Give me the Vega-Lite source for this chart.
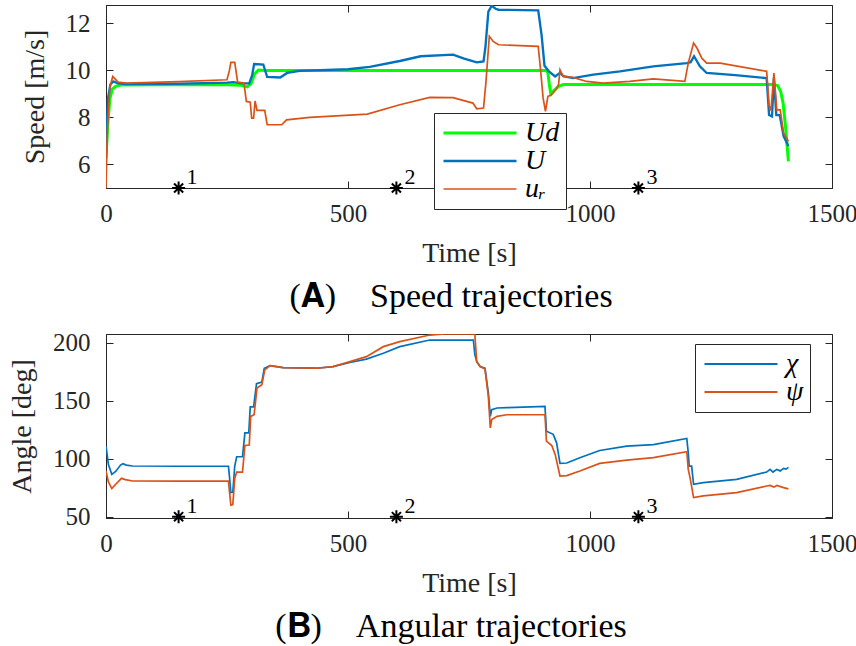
{
  "$schema": "https://vega.github.io/schema/vega-lite/v6.json",
  "padding": {"left": 8, "top": 4, "right": 0, "bottom": 0},
  "background": "white",
  "spacing": 15,
  "resolve": {"scale": {"color": "independent", "strokeWidth": "independent"}, "legend": {"color": "independent"}},
  "config": {
    "font": "Liberation Serif",
    "view": {"stroke": "#262626", "strokeWidth": 1},
    "axis": {"grid": false, "domainColor": "#262626", "tickColor": "#262626", "labelColor": "#262626", "titleColor": "#262626", "labelFont": "Liberation Serif", "titleFont": "Liberation Serif", "labelFontSize": 25, "titleFontSize": 28, "titleFontWeight": "normal", "tickSize": -7, "labelFlush": false, "labelOverlap": false},
    "title": {"font": "Liberation Serif, DejaVu Serif", "fontSize": 34, "fontWeight": "normal", "color": "#000000", "orient": "bottom", "anchor": "middle", "dx": -18},
    "legend": {"labelFont": "Liberation Serif", "labelFontStyle": "italic", "labelFontSize": 28, "labelColor": "#000000", "fillColor": "white", "strokeColor": "#262626", "padding": 6, "rowPadding": 0, "symbolStrokeWidth": 2, "symbolType": "M-4,0L4,0", "symbolSize": 333, "symbolOffset": 26, "labelOffset": 31}
  },
  "datasets": {
    "speed": [
      {"t":0,"v":6.3,"s":"Ud"},{"t":4,"v":7.8,"s":"Ud"},{"t":8,"v":8.8,"s":"Ud"},{"t":13,"v":9.2,"s":"Ud"},{"t":20,"v":9.32,"s":"Ud"},{"t":30,"v":9.38,"s":"Ud"},{"t":100,"v":9.39,"s":"Ud"},{"t":250,"v":9.39,"s":"Ud"},{"t":280,"v":9.37,"s":"Ud"},{"t":292,"v":9.3,"s":"Ud"},{"t":300,"v":9.45,"s":"Ud"},{"t":307,"v":9.85,"s":"Ud"},{"t":315,"v":10.02,"s":"Ud"},{"t":330,"v":10.0,"s":"Ud"},{"t":910,"v":10.0,"s":"Ud"},{"t":913,"v":9.9,"s":"Ud"},{"t":916,"v":9.4,"s":"Ud"},{"t":919,"v":9.0,"s":"Ud"},{"t":926,"v":9.15,"s":"Ud"},{"t":935,"v":9.32,"s":"Ud"},{"t":945,"v":9.4,"s":"Ud"},{"t":1380,"v":9.4,"s":"Ud"},{"t":1388,"v":9.35,"s":"Ud"},{"t":1394,"v":9.1,"s":"Ud"},{"t":1399,"v":8.6,"s":"Ud"},{"t":1404,"v":7.6,"s":"Ud"},{"t":1410,"v":6.13,"s":"Ud"},
      {"t":0,"v":6.5,"s":"U"},{"t":4,"v":8.8,"s":"U"},{"t":9,"v":9.4,"s":"U"},{"t":15,"v":9.53,"s":"U"},{"t":25,"v":9.45,"s":"U"},{"t":40,"v":9.42,"s":"U"},{"t":150,"v":9.43,"s":"U"},{"t":250,"v":9.48,"s":"U"},{"t":263,"v":9.5,"s":"U"},{"t":280,"v":9.45,"s":"U"},{"t":296,"v":9.45,"s":"U"},{"t":302,"v":9.8,"s":"U"},{"t":306,"v":10.27,"s":"U"},{"t":325,"v":10.25,"s":"U"},{"t":333,"v":9.72,"s":"U"},{"t":360,"v":9.7,"s":"U"},{"t":375,"v":9.9,"s":"U"},{"t":400,"v":9.98,"s":"U"},{"t":500,"v":10.05,"s":"U"},{"t":545,"v":10.15,"s":"U"},{"t":607,"v":10.4,"s":"U"},{"t":650,"v":10.6,"s":"U"},{"t":717,"v":10.67,"s":"U"},{"t":740,"v":10.5,"s":"U"},{"t":766,"v":10.34,"s":"U"},{"t":780,"v":10.38,"s":"U"},{"t":784,"v":11.0,"s":"U"},{"t":790,"v":12.5,"s":"U"},{"t":797,"v":12.75,"s":"U"},{"t":805,"v":12.62,"s":"U"},{"t":811,"v":12.58,"s":"U"},{"t":893,"v":12.55,"s":"U"},{"t":900,"v":11.5,"s":"U"},{"t":906,"v":10.2,"s":"U"},{"t":915,"v":9.96,"s":"U"},{"t":928,"v":9.74,"s":"U"},{"t":938,"v":9.9,"s":"U"},{"t":945,"v":9.75,"s":"U"},{"t":965,"v":9.67,"s":"U"},{"t":1007,"v":9.82,"s":"U"},{"t":1062,"v":9.96,"s":"U"},{"t":1131,"v":10.17,"s":"U"},{"t":1200,"v":10.31,"s":"U"},{"t":1208,"v":10.35,"s":"U"},{"t":1215,"v":10.6,"s":"U"},{"t":1227,"v":10.17,"s":"U"},{"t":1241,"v":9.89,"s":"U"},{"t":1300,"v":9.8,"s":"U"},{"t":1365,"v":9.67,"s":"U"},{"t":1370,"v":8.1,"s":"U"},{"t":1376,"v":8.04,"s":"U"},{"t":1380,"v":9.67,"s":"U"},{"t":1385,"v":8.1,"s":"U"},{"t":1392,"v":8.1,"s":"U"},{"t":1400,"v":7.2,"s":"U"},{"t":1410,"v":6.77,"s":"U"},
      {"t":0,"v":5.0,"s":"uᵣ"},{"t":3,"v":7.5,"s":"uᵣ"},{"t":8,"v":9.3,"s":"uᵣ"},{"t":14,"v":9.74,"s":"uᵣ"},{"t":25,"v":9.5,"s":"uᵣ"},{"t":42,"v":9.46,"s":"uᵣ"},{"t":150,"v":9.52,"s":"uᵣ"},{"t":250,"v":9.6,"s":"uᵣ"},{"t":255,"v":10.0,"s":"uᵣ"},{"t":258,"v":10.34,"s":"uᵣ"},{"t":266,"v":10.34,"s":"uᵣ"},{"t":272,"v":9.5,"s":"uᵣ"},{"t":285,"v":9.46,"s":"uᵣ"},{"t":290,"v":8.68,"s":"uᵣ"},{"t":298,"v":8.65,"s":"uᵣ"},{"t":301,"v":7.97,"s":"uᵣ"},{"t":305,"v":7.97,"s":"uᵣ"},{"t":308,"v":8.7,"s":"uᵣ"},{"t":312,"v":8.3,"s":"uᵣ"},{"t":328,"v":8.3,"s":"uᵣ"},{"t":333,"v":7.69,"s":"uᵣ"},{"t":363,"v":7.69,"s":"uᵣ"},{"t":373,"v":7.9,"s":"uᵣ"},{"t":421,"v":8.0,"s":"uᵣ"},{"t":540,"v":8.14,"s":"uᵣ"},{"t":607,"v":8.54,"s":"uᵣ"},{"t":669,"v":8.85,"s":"uᵣ"},{"t":717,"v":8.84,"s":"uᵣ"},{"t":758,"v":8.61,"s":"uᵣ"},{"t":766,"v":8.37,"s":"uᵣ"},{"t":780,"v":8.4,"s":"uᵣ"},{"t":785,"v":9.5,"s":"uᵣ"},{"t":792,"v":11.45,"s":"uᵣ"},{"t":800,"v":11.23,"s":"uᵣ"},{"t":811,"v":11.09,"s":"uᵣ"},{"t":893,"v":11.02,"s":"uᵣ"},{"t":898,"v":10.0,"s":"uᵣ"},{"t":903,"v":8.84,"s":"uᵣ"},{"t":908,"v":8.26,"s":"uᵣ"},{"t":913,"v":8.9,"s":"uᵣ"},{"t":920,"v":8.95,"s":"uᵣ"},{"t":930,"v":9.2,"s":"uᵣ"},{"t":935,"v":9.39,"s":"uᵣ"},{"t":938,"v":10.03,"s":"uᵣ"},{"t":945,"v":9.74,"s":"uᵣ"},{"t":965,"v":9.7,"s":"uᵣ"},{"t":993,"v":9.53,"s":"uᵣ"},{"t":1027,"v":9.46,"s":"uᵣ"},{"t":1082,"v":9.53,"s":"uᵣ"},{"t":1131,"v":9.64,"s":"uᵣ"},{"t":1196,"v":9.53,"s":"uᵣ"},{"t":1203,"v":10.31,"s":"uᵣ"},{"t":1214,"v":11.16,"s":"uᵣ"},{"t":1221,"v":10.95,"s":"uᵣ"},{"t":1231,"v":10.52,"s":"uᵣ"},{"t":1241,"v":10.31,"s":"uᵣ"},{"t":1269,"v":10.31,"s":"uᵣ"},{"t":1365,"v":9.96,"s":"uᵣ"},{"t":1370,"v":8.5,"s":"uᵣ"},{"t":1374,"v":8.32,"s":"uᵣ"},{"t":1380,"v":9.89,"s":"uᵣ"},{"t":1386,"v":8.32,"s":"uᵣ"},{"t":1393,"v":8.32,"s":"uᵣ"},{"t":1400,"v":7.33,"s":"uᵣ"},{"t":1410,"v":6.98,"s":"uᵣ"}
    ],
    "angle": [
      {"t":0,"v":111,"s":"χ"},{"t":5,"v":95,"s":"χ"},{"t":12,"v":86.5,"s":"χ"},{"t":20,"v":89,"s":"χ"},{"t":30,"v":94.5,"s":"χ"},{"t":35,"v":95.7,"s":"χ"},{"t":42,"v":94.5,"s":"χ"},{"t":55,"v":93.7,"s":"χ"},{"t":150,"v":93.5,"s":"χ"},{"t":253,"v":93.5,"s":"χ"},{"t":255,"v":85,"s":"χ"},{"t":258,"v":70.8,"s":"χ"},{"t":262,"v":71,"s":"χ"},{"t":266,"v":93.7,"s":"χ"},{"t":270,"v":101.7,"s":"χ"},{"t":282,"v":101.7,"s":"χ"},{"t":287,"v":122.3,"s":"χ"},{"t":295,"v":122.3,"s":"χ"},{"t":298,"v":144.6,"s":"χ"},{"t":305,"v":144.6,"s":"χ"},{"t":311,"v":164.6,"s":"χ"},{"t":322,"v":166,"s":"χ"},{"t":327,"v":178,"s":"χ"},{"t":339,"v":180.3,"s":"χ"},{"t":366,"v":178.5,"s":"χ"},{"t":435,"v":178,"s":"χ"},{"t":469,"v":179.4,"s":"χ"},{"t":504,"v":182.9,"s":"χ"},{"t":538,"v":185.8,"s":"χ"},{"t":573,"v":190.9,"s":"χ"},{"t":607,"v":196.6,"s":"χ"},{"t":669,"v":202.3,"s":"χ"},{"t":759,"v":202.3,"s":"χ"},{"t":762,"v":190,"s":"χ"},{"t":766,"v":183.7,"s":"χ"},{"t":773,"v":179.4,"s":"χ"},{"t":783,"v":178,"s":"χ"},{"t":790,"v":156.6,"s":"χ"},{"t":794,"v":136.5,"s":"χ"},{"t":797,"v":142.3,"s":"χ"},{"t":808,"v":143.7,"s":"χ"},{"t":828,"v":144,"s":"χ"},{"t":907,"v":145.1,"s":"χ"},{"t":910,"v":123.7,"s":"χ"},{"t":924,"v":121,"s":"χ"},{"t":931,"v":113.7,"s":"χ"},{"t":938,"v":96,"s":"χ"},{"t":952,"v":96.3,"s":"χ"},{"t":979,"v":100.9,"s":"χ"},{"t":1020,"v":107.1,"s":"χ"},{"t":1076,"v":110.8,"s":"χ"},{"t":1131,"v":112.2,"s":"χ"},{"t":1200,"v":117.4,"s":"χ"},{"t":1203,"v":105,"s":"χ"},{"t":1205,"v":93.7,"s":"χ"},{"t":1210,"v":93.7,"s":"χ"},{"t":1214,"v":78,"s":"χ"},{"t":1234,"v":79.4,"s":"χ"},{"t":1303,"v":82.2,"s":"χ"},{"t":1365,"v":88.5,"s":"χ"},{"t":1372,"v":90.8,"s":"χ"},{"t":1378,"v":88.5,"s":"χ"},{"t":1386,"v":90.8,"s":"χ"},{"t":1393,"v":89.5,"s":"χ"},{"t":1400,"v":91.7,"s":"χ"},{"t":1405,"v":91,"s":"χ"},{"t":1410,"v":92.5,"s":"χ"},
      {"t":0,"v":89.4,"s":"ψ"},{"t":5,"v":80,"s":"ψ"},{"t":12,"v":74.3,"s":"ψ"},{"t":20,"v":78,"s":"ψ"},{"t":32,"v":83.1,"s":"ψ"},{"t":40,"v":82,"s":"ψ"},{"t":55,"v":80.8,"s":"ψ"},{"t":150,"v":80.7,"s":"ψ"},{"t":253,"v":80.7,"s":"ψ"},{"t":255,"v":72,"s":"ψ"},{"t":258,"v":60,"s":"ψ"},{"t":262,"v":60.5,"s":"ψ"},{"t":266,"v":83,"s":"ψ"},{"t":270,"v":88.5,"s":"ψ"},{"t":282,"v":88.5,"s":"ψ"},{"t":287,"v":111.4,"s":"ψ"},{"t":296,"v":111.8,"s":"ψ"},{"t":299,"v":136.5,"s":"ψ"},{"t":306,"v":137.9,"s":"ψ"},{"t":312,"v":160.9,"s":"ψ"},{"t":322,"v":163.7,"s":"ψ"},{"t":328,"v":176.6,"s":"ψ"},{"t":339,"v":180.3,"s":"ψ"},{"t":366,"v":178.5,"s":"ψ"},{"t":435,"v":178,"s":"ψ"},{"t":469,"v":179.4,"s":"ψ"},{"t":504,"v":183.7,"s":"ψ"},{"t":538,"v":188,"s":"ψ"},{"t":573,"v":196.6,"s":"ψ"},{"t":607,"v":200.9,"s":"ψ"},{"t":669,"v":206.6,"s":"ψ"},{"t":700,"v":207.5,"s":"ψ"},{"t":762,"v":207.5,"s":"ψ"},{"t":766,"v":183.7,"s":"ψ"},{"t":773,"v":179.4,"s":"ψ"},{"t":783,"v":177.4,"s":"ψ"},{"t":790,"v":153.7,"s":"ψ"},{"t":794,"v":126.6,"s":"ψ"},{"t":797,"v":133.7,"s":"ψ"},{"t":808,"v":136.5,"s":"ψ"},{"t":828,"v":137.9,"s":"ψ"},{"t":907,"v":137.9,"s":"ψ"},{"t":910,"v":115.1,"s":"ψ"},{"t":921,"v":111.4,"s":"ψ"},{"t":928,"v":103.7,"s":"ψ"},{"t":938,"v":85.1,"s":"ψ"},{"t":952,"v":85.5,"s":"ψ"},{"t":979,"v":89.4,"s":"ψ"},{"t":1020,"v":96,"s":"ψ"},{"t":1076,"v":98.8,"s":"ψ"},{"t":1131,"v":100.9,"s":"ψ"},{"t":1200,"v":106,"s":"ψ"},{"t":1203,"v":90.8,"s":"ψ"},{"t":1207,"v":83,"s":"ψ"},{"t":1214,"v":66.5,"s":"ψ"},{"t":1234,"v":67.9,"s":"ψ"},{"t":1303,"v":70.8,"s":"ψ"},{"t":1365,"v":76.5,"s":"ψ"},{"t":1372,"v":77,"s":"ψ"},{"t":1380,"v":75.5,"s":"ψ"},{"t":1386,"v":77,"s":"ψ"},{"t":1400,"v":75.1,"s":"ψ"},{"t":1410,"v":74,"s":"ψ"}
    ],
    "stars": [
      {"t":150,"speed":5,"angle":50,"label":"1"},
      {"t":600,"speed":5,"angle":50,"label":"2"},
      {"t":1100,"speed":5,"angle":50,"label":"3"}
    ]
  },
  "vconcat": [
    {
      "width": 726, "height": 183,
      "title": {"text": "(𝐀)\u2003Speed trajectories", "offset": 13},
      "resolve": {"axis": {"x": "independent", "y": "independent"}},
      "layer": [
        {
          "data": {"name": "speed"},
          "mark": {"type": "line", "clip": true},
          "encoding": {
            "x": {"field": "t", "type": "quantitative", "scale": {"domain": [0, 1500], "nice": false}, "axis": {"values": [0, 500, 1000, 1500], "format": "d", "title": "Time [s]", "labelPadding": 20, "titlePadding": 13}},
            "y": {"field": "v", "type": "quantitative", "scale": {"domain": [5, 12.78], "nice": false, "zero": false}, "axis": {"values": [6, 8, 10, 12], "title": "Speed [m/s]", "labelPadding": 23, "titlePadding": 16}},
            "color": {"field": "s", "type": "nominal", "sort": null, "scale": {"domain": ["Ud", "U", "uᵣ"], "range": ["#00FF00", "#0072BD", "#D95319"]}, "legend": {"title": null, "orient": "none", "legendX": 328, "legendY": 108}},
            "strokeWidth": {"field": "s", "type": "nominal", "scale": {"domain": ["Ud", "U", "uᵣ"], "range": [3, 1.7, 1.7]}, "legend": null}
          }
        },
        {
          "data": {"name": "stars"},
          "mark": {"type": "point", "shape": "M-1,0L1,0M0,-1L0,1M-0.7,-0.7L0.7,0.7M-0.7,0.7L0.7,-0.7", "filled": false, "stroke": "black", "strokeWidth": 2, "size": 170, "opacity": 1},
          "encoding": {
            "x": {"field": "t", "type": "quantitative", "axis": {"orient": "top", "labels": false, "title": null, "domain": false, "values": [0, 500, 1000, 1500]}},
            "y": {"field": "speed", "type": "quantitative", "axis": {"orient": "right", "labels": false, "title": null, "domain": false, "values": [6, 8, 10, 12]}}
          }
        },
        {
          "data": {"name": "stars"},
          "mark": {"type": "text", "align": "left", "baseline": "middle", "dx": 8, "dy": -11, "fontSize": 22, "color": "black"},
          "encoding": {
            "x": {"field": "t", "type": "quantitative", "axis": null},
            "y": {"field": "speed", "type": "quantitative", "axis": null},
            "text": {"field": "label"}
          }
        }
      ]
    },
    {
      "width": 726, "height": 184,
      "title": {"text": "(𝐁)\u2003Angular trajectories", "offset": 13},
      "resolve": {"axis": {"x": "independent", "y": "independent"}},
      "layer": [
        {
          "data": {"name": "angle"},
          "mark": {"type": "line", "clip": true, "strokeWidth": 1.7},
          "encoding": {
            "x": {"field": "t", "type": "quantitative", "scale": {"domain": [0, 1500], "nice": false}, "axis": {"values": [0, 500, 1000, 1500], "format": "d", "title": "Time [s]", "labelPadding": 20, "titlePadding": 13}},
            "y": {"field": "v", "type": "quantitative", "scale": {"domain": [48.9, 207.5], "nice": false, "zero": false}, "axis": {"values": [50, 100, 150, 200], "title": "Angle [deg]", "labelPadding": 23, "titlePadding": 16}},
            "color": {"field": "s", "type": "nominal", "sort": null, "scale": {"domain": ["χ", "ψ"], "range": ["#0072BD", "#D95319"]}, "legend": {"title": null, "orient": "none", "legendX": 589, "legendY": 10}}
          }
        },
        {
          "data": {"name": "stars"},
          "mark": {"type": "point", "shape": "M-1,0L1,0M0,-1L0,1M-0.7,-0.7L0.7,0.7M-0.7,0.7L0.7,-0.7", "filled": false, "stroke": "black", "strokeWidth": 2, "size": 170, "opacity": 1},
          "encoding": {
            "x": {"field": "t", "type": "quantitative", "axis": {"orient": "top", "labels": false, "title": null, "domain": false, "values": [0, 500, 1000, 1500]}},
            "y": {"field": "angle", "type": "quantitative", "axis": {"orient": "right", "labels": false, "title": null, "domain": false, "values": [50, 100, 150, 200]}}
          }
        },
        {
          "data": {"name": "stars"},
          "mark": {"type": "text", "align": "left", "baseline": "middle", "dx": 8, "dy": -11, "fontSize": 22, "color": "black"},
          "encoding": {
            "x": {"field": "t", "type": "quantitative", "axis": null},
            "y": {"field": "angle", "type": "quantitative", "axis": null},
            "text": {"field": "label"}
          }
        }
      ]
    }
  ]
}
